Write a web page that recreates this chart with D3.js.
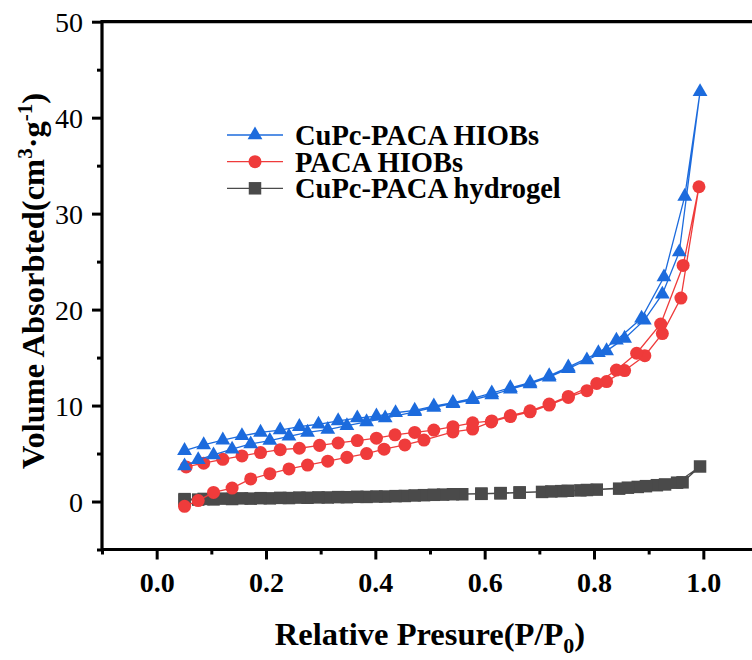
<!DOCTYPE html>
<html>
<head>
<meta charset="utf-8">
<script src="https://cdn.jsdelivr.net/npm/d3@7"></script>
<style>
  html, body { margin: 0; padding: 0; background: #fff; }
  svg { display: block; font-family: "Liberation Serif", "Times New Roman", serif; }
</style>
</head>
<body>
<svg id="chart" width="752" height="660"></svg>
<script>
// N2 adsorption / desorption isotherms (adsorption branch, then desorption branch)
const seriesNames = ["CuPc-PACA HIOBs", "PACA HIOBs", "CuPc-PACA hydrogel"];

// CuPc-PACA HIOBs
const cuHiobsAdsP = [0.051, 0.076, 0.104, 0.138, 0.172, 0.207, 0.242, 0.276, 0.313, 0.348, 0.384, 0.418, 0.472, 0.507, 0.542, 0.578, 0.613, 0.647, 0.683, 0.718, 0.753, 0.787, 0.823, 0.856, 0.892, 0.925, 0.956, 0.994];
const cuHiobsAdsV = [3.7, 4.35, 4.85, 5.45, 6.0, 6.35, 6.8, 7.2, 7.5, 7.9, 8.3, 8.7, 9.35, 9.8, 10.2, 10.6, 11.1, 11.7, 12.25, 12.95, 13.85, 14.75, 15.7, 17.0, 18.9, 21.6, 26.0, 42.7];
const cuHiobsDesP = [0.966, 0.928, 0.887, 0.841, 0.808, 0.753, 0.718, 0.683, 0.647, 0.613, 0.578, 0.542, 0.507, 0.472, 0.437, 0.402, 0.367, 0.332, 0.296, 0.261, 0.226, 0.190, 0.156, 0.121, 0.086, 0.051];
const cuHiobsDesV = [31.8, 23.4, 19.1, 16.8, 15.5, 14.0, 13.1, 12.4, 11.85, 11.3, 10.75, 10.3, 9.95, 9.5, 9.25, 8.9, 8.7, 8.4, 8.05, 7.8, 7.45, 7.2, 6.85, 6.4, 5.9, 5.3];

// PACA HIOBs
const pacaAdsP = [0.051, 0.076, 0.104, 0.138, 0.172, 0.207, 0.242, 0.276, 0.313, 0.348, 0.384, 0.416, 0.454, 0.489, 0.542, 0.578, 0.612, 0.647, 0.683, 0.718, 0.753, 0.787, 0.823, 0.856, 0.893, 0.925, 0.959, 0.992];
const pacaAdsV = [-0.5, 0.1, 0.95, 1.4, 2.35, 2.9, 3.4, 3.8, 4.2, 4.6, 5.0, 5.45, 5.9, 6.4, 7.25, 7.55, 8.3, 8.85, 9.35, 10.05, 10.85, 11.55, 12.5, 13.65, 15.2, 17.5, 21.2, 32.8];
const pacaDesP = [0.963, 0.922, 0.878, 0.841, 0.805, 0.753, 0.718, 0.683, 0.647, 0.613, 0.578, 0.542, 0.507, 0.472, 0.436, 0.402, 0.367, 0.332, 0.298, 0.261, 0.226, 0.190, 0.156, 0.121, 0.086, 0.054];
const pacaDesV = [24.6, 18.5, 15.45, 13.7, 12.3, 10.95, 10.15, 9.45, 8.95, 8.4, 8.2, 7.8, 7.45, 7.2, 6.95, 6.6, 6.35, 6.1, 5.85, 5.55, 5.4, 5.1, 4.75, 4.4, 4.0, 3.6];

// CuPc-PACA hydrogel
const gelAdsP = [0.051, 0.076, 0.104, 0.138, 0.172, 0.207, 0.242, 0.276, 0.313, 0.348, 0.384, 0.418, 0.454, 0.489, 0.524, 0.559, 0.594, 0.629, 0.664, 0.705, 0.740, 0.775, 0.805, 0.846, 0.880, 0.915, 0.952, 0.994];
const gelAdsV = [0.15, 0.2, 0.22, 0.26, 0.3, 0.33, 0.36, 0.39, 0.42, 0.45, 0.48, 0.52, 0.58, 0.66, 0.72, 0.76, 0.8, 0.86, 0.92, 1.0, 1.08, 1.16, 1.24, 1.34, 1.52, 1.7, 1.96, 3.65];
const gelDesP = [0.962, 0.930, 0.895, 0.862, 0.787, 0.752, 0.722, 0.664, 0.629, 0.594, 0.542, 0.507, 0.472, 0.437, 0.402, 0.367, 0.332, 0.296, 0.261, 0.226, 0.190, 0.156, 0.121, 0.086, 0.051];
const gelDesV = [2.0, 1.78, 1.6, 1.44, 1.2, 1.12, 1.05, 0.95, 0.88, 0.82, 0.76, 0.7, 0.63, 0.56, 0.52, 0.49, 0.46, 0.43, 0.41, 0.38, 0.35, 0.33, 0.3, 0.27, 0.25];

const xTickValues = [0.0, 0.2, 0.4, 0.6, 0.8, 1.0];
const yTickValues = [0, 10, 20, 30, 40, 50];

const colors = ["#1C6BDD", "#EF3B3B", "#4A4A4A"];
const shapes = [d3.symbolTriangle, d3.symbolCircle, d3.symbolSquare];
const sizes = [95, 133, 156];

function branch(ap, av, dp, dv) {
  const a = ap.map((p, i) => [p, av[i]]);
  const d = dp.map((p, i) => [p, dv[i]]);
  return a.concat(d);
}
const series = [
  branch(cuHiobsAdsP, cuHiobsAdsV, cuHiobsDesP, cuHiobsDesV),
  branch(pacaAdsP, pacaAdsV, pacaDesP, pacaDesV),
  branch(gelAdsP, gelAdsV, gelDesP, gelDesV)
];

const svg = d3.select("#chart");
const plotLeft = 102, plotRight = 758, plotTop = 21.7, plotBottom = 549.5;
const x = d3.scaleLinear().domain([-0.1, 1.1]).range([plotLeft, plotRight]);
const y = d3.scaleLinear().domain([-5, 50]).range([plotBottom, plotTop]);

// data layers: hydrogel underneath, then PACA, then CuPc-PACA
const order = [2, 1, 0];
const line = d3.line().x(d => x(d[0])).y(d => y(d[1]));
order.forEach(k => {
  const g = svg.append("g");
  g.append("path").datum(series[k])
    .attr("d", line).attr("fill", "none")
    .attr("stroke", colors[k]).attr("stroke-width", 1.3);
  g.selectAll("path.pt").data(series[k]).join("path")
    .attr("class", "pt")
    .attr("transform", d => `translate(${x(d[0])},${y(d[1])})`)
    .attr("d", d3.symbol().type(shapes[k]).size(sizes[k]))
    .attr("fill", colors[k]);
});

// axes
const xMajor = d3.axisBottom(x).tickValues(xTickValues).tickSize(10).tickFormat(d3.format(".1f"));
const xMinor = d3.axisBottom(x).tickValues([-0.1, 0.1, 0.3, 0.5, 0.7, 0.9]).tickSize(5).tickFormat("");
const yMajor = d3.axisLeft(y).tickValues(yTickValues).tickSize(10).tickFormat(d3.format("d"));
const yMinor = d3.axisLeft(y).tickValues([-5, 5, 15, 25, 35, 45]).tickSize(5).tickFormat("");

function styleAxis(g) {
  g.select(".domain").remove();
  g.selectAll(".tick line").attr("stroke", "#000").attr("stroke-width", 3);
}
svg.append("g").attr("transform", `translate(0,${plotBottom})`).call(xMinor).call(styleAxis);
const gx = svg.append("g").attr("transform", `translate(0,${plotBottom})`).call(xMajor).call(styleAxis);
gx.selectAll(".tick text").attr("dy", null).attr("y", 42)
  .attr("font-family", "Liberation Serif").attr("font-weight", "bold")
  .attr("font-size", 28).attr("fill", "#000");
svg.append("g").attr("transform", `translate(${plotLeft},0)`).call(yMinor).call(styleAxis);
const gy = svg.append("g").attr("transform", `translate(${plotLeft},0)`).call(yMajor).call(styleAxis);
gy.selectAll(".tick text").attr("x", -19).attr("dy", "0.34em")
  .attr("font-family", "Liberation Serif").attr("font-size", 28).attr("fill", "#000");

// frame: left, top and bottom edges
svg.append("path")
  .attr("d", `M${plotRight},${plotTop}H${plotLeft}V${plotBottom}H${plotRight}`)
  .attr("fill", "none").attr("stroke", "#000").attr("stroke-width", 3.2);

// axis titles
const xt = svg.append("text").attr("x", 430).attr("y", 645)
  .attr("text-anchor", "middle").attr("font-weight", "bold").attr("font-size", 32.5);
xt.append("tspan").text("Relative Presure(P/P");
xt.append("tspan").attr("dy", 8).attr("font-size", 22).text("0");
xt.append("tspan").attr("dy", -8).text(")");

const yt = svg.append("text")
  .attr("transform", "translate(44,281) rotate(-90)")
  .attr("text-anchor", "middle").attr("font-weight", "bold").attr("font-size", 32.5);
yt.append("tspan").text("Volume Absorbted(cm");
yt.append("tspan").attr("dy", -12).attr("font-size", 21).text("3");
yt.append("tspan").attr("dy", 12).text("·g");
yt.append("tspan").attr("dy", -12).attr("font-size", 21).text("-1");
yt.append("tspan").attr("dy", 12).text(")");

// legend
const legendY = [135, 161.7, 188.3];
seriesNames.forEach((name, k) => {
  const g = svg.append("g").attr("transform", `translate(0,${legendY[k]})`);
  g.append("line").attr("x1", 227).attr("x2", 283).attr("y1", 0).attr("y2", 0)
    .attr("stroke", colors[k]).attr("stroke-width", 1.3);
  g.append("path").attr("transform", "translate(255,0)")
    .attr("d", d3.symbol().type(shapes[k]).size(sizes[k])).attr("fill", colors[k]);
  g.append("text").attr("x", 295).attr("y", 10)
    .attr("font-weight", "bold").attr("font-size", 28.5).attr("fill", "#000").text(name);
});
</script>
</body>
</html>
